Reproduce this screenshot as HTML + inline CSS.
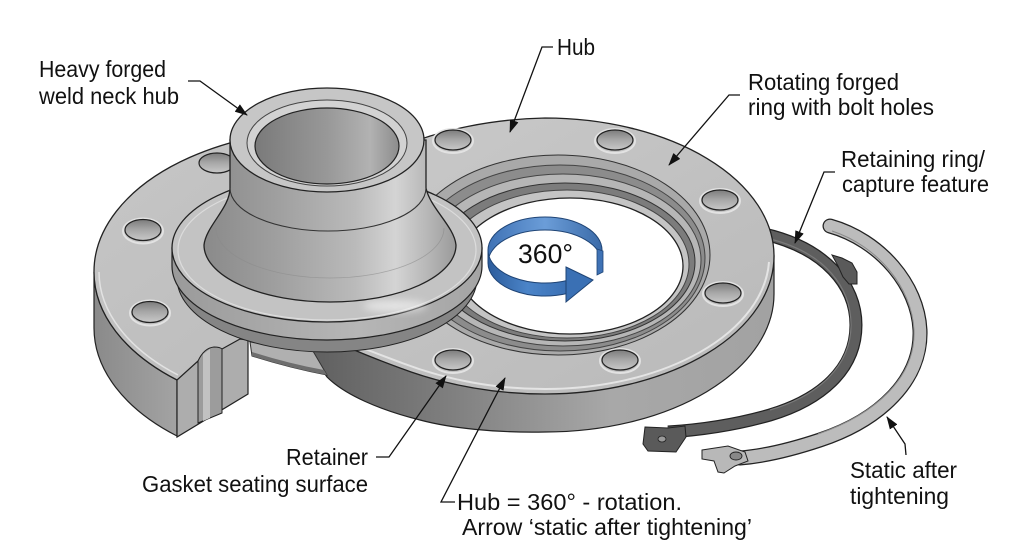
<!DOCTYPE html>
<html><head><meta charset="utf-8">
<style>
html,body{margin:0;padding:0;background:#fff}
svg{display:block}
text{font-family:"Liberation Sans",Arial,sans-serif;fill:#111}
</style></head>
<body>
<svg width="1024" height="559" viewBox="0 0 1024 559" xmlns="http://www.w3.org/2000/svg">
<defs>
  <linearGradient id="gFace" x1="0" y1="0" x2="1" y2="1">
    <stop offset="0" stop-color="#cacaca"/><stop offset="1" stop-color="#b9b9b9"/>
  </linearGradient>
  <linearGradient id="gLFace" x1="0" y1="0" x2="1" y2="1">
    <stop offset="0" stop-color="#c6c6c6"/><stop offset="1" stop-color="#bababa"/>
  </linearGradient>
  <linearGradient id="gRingSide" gradientUnits="userSpaceOnUse" x1="305" y1="0" x2="775" y2="0">
    <stop offset="0" stop-color="#5e5e5e"/><stop offset="0.3" stop-color="#7e7e7e"/>
    <stop offset="0.65" stop-color="#a8a8a8"/><stop offset="1" stop-color="#a2a2a2"/>
  </linearGradient>
  <linearGradient id="gLSide" gradientUnits="userSpaceOnUse" x1="94" y1="0" x2="180" y2="0">
    <stop offset="0" stop-color="#8a8a8a"/><stop offset="1" stop-color="#a4a4a4"/>
  </linearGradient>
  <linearGradient id="gHubSide" gradientUnits="userSpaceOnUse" x1="172" y1="0" x2="482" y2="0">
    <stop offset="0" stop-color="#9a9a9a"/><stop offset="0.6" stop-color="#b6b6b6"/><stop offset="1" stop-color="#a4a4a4"/>
  </linearGradient>
  <linearGradient id="gCone" gradientUnits="userSpaceOnUse" x1="204" y1="0" x2="456" y2="0">
    <stop offset="0" stop-color="#8a8a8a"/><stop offset="0.3" stop-color="#a0a0a0"/>
    <stop offset="0.6" stop-color="#bababa"/><stop offset="0.76" stop-color="#d4d4d4"/>
    <stop offset="0.9" stop-color="#b4b4b4"/><stop offset="1" stop-color="#9a9a9a"/>
  </linearGradient>
  <linearGradient id="gBore" gradientUnits="userSpaceOnUse" x1="255" y1="0" x2="399" y2="0">
    <stop offset="0" stop-color="#7a7a7a"/><stop offset="0.5" stop-color="#989898"/>
    <stop offset="0.8" stop-color="#b2b2b2"/><stop offset="1" stop-color="#8c8c8c"/>
  </linearGradient>
  <linearGradient id="gHole" x1="0" y1="0" x2="0" y2="1">
    <stop offset="0" stop-color="#7c7c7c"/><stop offset="0.5" stop-color="#a8a8a8"/><stop offset="1" stop-color="#c8c8c8"/>
  </linearGradient>
  <linearGradient id="gBlueBack" x1="0" y1="0" x2="1" y2="0">
    <stop offset="0" stop-color="#3f72b5"/><stop offset="0.5" stop-color="#6b9dd8"/><stop offset="1" stop-color="#3a6aa8"/>
  </linearGradient>
  <linearGradient id="gBlueFront" x1="0" y1="0" x2="1" y2="0">
    <stop offset="0" stop-color="#2c5c9c"/><stop offset="0.5" stop-color="#4b84c8"/><stop offset="1" stop-color="#3a70b4"/>
  </linearGradient>
  <filter id="blur" x="-50%" y="-50%" width="200%" height="200%"><feGaussianBlur stdDeviation="4"/></filter>
  <marker id="ah" markerUnits="userSpaceOnUse" markerWidth="13" markerHeight="9" refX="12" refY="4.5" orient="auto" viewBox="0 0 13 9">
    <path d="M0,0 L13,4.5 L0,9 Z" fill="#111"/>
  </marker>
</defs>

<rect width="1024" height="559" fill="#fff"/>

<!-- retaining ring A (dark) -->
<path d="M764,234 C825,248 856,285 856,325 C856,370 820,400 770,415 C735,425 700,430 668,432" fill="none" stroke="#222" stroke-width="13"/>
<path d="M764,234 C825,248 856,285 856,325 C856,370 820,400 770,415 C735,425 700,430 668,432" fill="none" stroke="#5e5e5e" stroke-width="10.5"/>
<path d="M770,239 C826,253 851,288 851,325 C851,366 818,396 770,410" fill="none" stroke="#7a7a7a" stroke-width="1.2"/>
<polygon points="645,427 668,428 685,426 686,437 680,446 676,452 648,451 643,444" fill="#5a5a5a" stroke="#222" stroke-width="1"/>
<ellipse cx="662" cy="439" rx="4" ry="3" fill="#999" stroke="#222" stroke-width=".8"/>
<polygon points="832,255 842,258 852,263 857,272 857,284 849,284 843,277 838,266" fill="#5a5a5a" stroke="#222" stroke-width="1"/>

<!-- main rotating ring: side -->
<path d="M774,256 L774,294 A229,138 0 0,1 545,432 C495,433 450,428 420,420 C380,410 345,395 327,377 L310,352 L300,320 L400,300 Z" fill="url(#gRingSide)" stroke="#222" stroke-width="1.2"/>
<!-- top face -->
<path d="M545,118 A229,138 0 0,1 774,256 A229,138 0 0,1 545,394 C495,394 445,385 400,368 C365,355 325,340 305,320 C290,300 292,260 310,220 C340,160 440,120 545,118 Z" fill="url(#gFace)" stroke="#222" stroke-width="1.3"/>
<path d="M769,262 A224,133 0 0,1 545,389 C495,389 447,380 402,363 C370,351 340,340 322,328" fill="none" stroke="#e4e4e4" stroke-width="2"/>
<!-- recess / grooves -->
<ellipse cx="558" cy="255" rx="152" ry="100" fill="#a9a9a9" stroke="#333" stroke-width="1"/>
<ellipse cx="560" cy="258" rx="145" ry="93" fill="#8c8c8c" stroke="#444" stroke-width="1"/>
<ellipse cx="563" cy="260" rx="138" ry="86" fill="#b6b6b6" stroke="#444" stroke-width="1"/>
<ellipse cx="565" cy="262" rx="130" ry="79" fill="#7c7c7c" stroke="#333" stroke-width="1"/>
<ellipse cx="567" cy="264" rx="122" ry="74" fill="#c4c4c4" stroke="#444" stroke-width="1"/>
<ellipse cx="570" cy="266" rx="113" ry="68" fill="#fff" stroke="#222" stroke-width="1.3"/>
<!-- bolt holes -->
<g>
  <g stroke="#e2e2e2" stroke-width="2" fill="none">
    <ellipse cx="453" cy="141" rx="20" ry="12"/><ellipse cx="615" cy="141" rx="20" ry="12"/>
    <ellipse cx="720" cy="201" rx="20" ry="12"/><ellipse cx="723" cy="294" rx="20" ry="12"/>
    <ellipse cx="620" cy="361" rx="20" ry="12"/><ellipse cx="453" cy="361" rx="20" ry="12"/>
  </g>
  <g stroke="#222" stroke-width="1.2" fill="url(#gHole)">
    <ellipse cx="453" cy="140" rx="18" ry="10"/><ellipse cx="615" cy="140" rx="18" ry="10"/>
    <ellipse cx="720" cy="200" rx="18" ry="10"/><ellipse cx="723" cy="293" rx="18" ry="10"/>
    <ellipse cx="620" cy="360" rx="18" ry="10"/><ellipse cx="453" cy="360" rx="18" ry="10"/>
  </g>
</g>

<!-- left flange with cutaway -->
<path d="M94,272 A236,142 0 0,0 177,380 L177,436 A236,142 0 0,1 94,328 Z" fill="url(#gLSide)" stroke="#222" stroke-width="1.2"/>
<path d="M177,380 A236,142 0 0,1 94,272 A236,142 0 0,1 400,136 L420,200 L300,300 L248,340 Z" fill="url(#gLFace)" stroke="#222" stroke-width="1.3"/>
<path d="M178,375 A231,137 0 0,1 99,272" fill="none" stroke="#e2e2e2" stroke-width="1.5"/>
<!-- cut face -->
<polygon points="177,380 198,361 222,349 240,339 248,340 248,394 177,437" fill="#adadad" stroke="#222" stroke-width="1.2"/>
<path d="M198,361 Q204,348 214,347 Q220,347 222,349 L222,413 L198,423 Z" fill="#9c9c9c" stroke="#222" stroke-width="1"/>
<path d="M203,354 L203,421 L210,418 L210,349 Z" fill="#c2c2c2"/>
<line x1="222" y1="349" x2="222" y2="413" stroke="#222" stroke-width="1"/>
<!-- left flange holes -->
<g>
  <g stroke="#e2e2e2" stroke-width="2" fill="none">
    <ellipse cx="143" cy="231" rx="20" ry="12.5"/><ellipse cx="150" cy="313" rx="20" ry="12.5"/>
  </g>
  <g stroke="#222" stroke-width="1.2" fill="url(#gHole)">
    <ellipse cx="217" cy="163" rx="18" ry="10"/>
    <ellipse cx="143" cy="230" rx="18" ry="10.5"/>
    <ellipse cx="150" cy="312" rx="18" ry="10.5"/>
  </g>
</g>

<!-- retainer (light wedge under hub) -->
<path d="M250,342 L310,346 L327,375 Q290,368 252,356 Z" fill="#b0b0b0" stroke="#333" stroke-width="1"/>
<path d="M252,352 Q290,364 324,370 L327,375 Q290,368 252,356 Z" fill="#6e6e6e"/>

<!-- dark gasket band beneath hub flange -->
<path d="M177,262 L177,278 A150,74 0 0,0 477,278 L477,262 Z" fill="#858585" stroke="#222" stroke-width="1"/>

<!-- hub flange -->
<path d="M172,248 L172,266 A155,74 0 0,0 482,266 L482,248 Z" fill="url(#gHubSide)" stroke="#222" stroke-width="1.2"/>
<ellipse cx="327" cy="248" rx="155" ry="74" fill="#c3c3c3" stroke="#222" stroke-width="1.3"/>
<ellipse cx="327" cy="250" rx="149" ry="70" fill="none" stroke="#dcdcdc" stroke-width="1.2"/>
<ellipse cx="395" cy="306" rx="32" ry="6" fill="#fff" opacity="0.55" filter="url(#blur)"/>

<!-- cone / neck -->
<path d="M230,140 L230,188 C230,208 206,226 204,245 A126,57 0 0,0 456,245 C454,226 430,208 426,188 L426,140 Z" fill="url(#gCone)" stroke="#222" stroke-width="1.3"/>
<path d="M230,188 A98,43 0 0,0 426,188" fill="none" stroke="#333" stroke-width="1.1"/>
<path d="M216,228 A114,50 0 0,0 444,228" fill="none" stroke="#8a8a8a" stroke-width="0.8" opacity="0.6"/>
<!-- top rim -->
<ellipse cx="327" cy="140" rx="97" ry="52" fill="#c6c6c6" stroke="#222" stroke-width="1.3"/>
<ellipse cx="327" cy="143" rx="80" ry="43" fill="#d2d2d2" stroke="#444" stroke-width="1"/>
<ellipse cx="327" cy="146" rx="72" ry="38" fill="url(#gBore)" stroke="#222" stroke-width="1.2"/>

<!-- blue 360 ribbon -->
<path d="M488,250 A57,33 0 0,1 602,250 L602,263 A57,33 0 0,0 488,263 Z" fill="url(#gBlueBack)" stroke="#1f4475" stroke-width="1"/>
<path d="M488,250 A57,33 0 0,0 567,280.5 L567,293.5 A57,33 0 0,1 488,263 Z" fill="url(#gBlueFront)" stroke="#1f4475" stroke-width="1"/>
<polygon points="566,267 593,280 566,302" fill="#3a70b4" stroke="#1f4475" stroke-width="1"/>
<polygon points="597,249 603,251 603,272 597,275" fill="#3f72b5" stroke="#1f4475" stroke-width=".8"/>
<text x="518" y="263" font-size="27" textLength="55" lengthAdjust="spacingAndGlyphs">360°</text>

<!-- retaining ring B (light) -->
<path d="M830,226 C880,240 918,285 920,330 C922,380 880,420 820,440 C790,450 765,456 740,458" fill="none" stroke="#222" stroke-width="15" stroke-linecap="round"/>
<path d="M830,226 C880,240 918,285 920,330 C922,380 880,420 820,440 C790,450 765,456 740,458" fill="none" stroke="#bcbcbc" stroke-width="12.5" stroke-linecap="round"/>
<path d="M832,231 C878,246 912,288 914,330 C916,377 876,414 818,434" fill="none" stroke="#8a8a8a" stroke-width="1"/>
<polygon points="702,450 728,446 745,452 748,461 735,466 724,473 718,472 714,461 702,459" fill="#b8b8b8" stroke="#222" stroke-width="1"/>
<ellipse cx="736" cy="456" rx="6" ry="4" fill="#888" stroke="#222" stroke-width=".9"/>

<!-- leaders -->
<g fill="none" stroke="#111" stroke-width="1.3">
  <polyline points="188,81 200,81 247,115" marker-end="url(#ah)"/>
  <polyline points="553,47 542,47 510,132" marker-end="url(#ah)"/>
  <polyline points="740,95 729,95 669,165" marker-end="url(#ah)"/>
  <polyline points="835,172 824,172 795,243" marker-end="url(#ah)"/>
  <polyline points="376,457 389,457 446,376" marker-end="url(#ah)"/>
  <polyline points="455,502 441,502 505,378" marker-end="url(#ah)"/>
  <polyline points="906,455 905,444 887,417" marker-end="url(#ah)"/>
</g>

<!-- labels -->
<g font-size="23">
  <text x="39" y="77" textLength="127" lengthAdjust="spacingAndGlyphs">Heavy forged</text>
  <text x="39" y="104" textLength="140" lengthAdjust="spacingAndGlyphs">weld neck hub</text>
  <text x="557" y="55" textLength="38" lengthAdjust="spacingAndGlyphs">Hub</text>
  <text x="748" y="90" textLength="151" lengthAdjust="spacingAndGlyphs">Rotating forged</text>
  <text x="748" y="115" textLength="186" lengthAdjust="spacingAndGlyphs">ring with bolt holes</text>
  <text x="841" y="167" textLength="144" lengthAdjust="spacingAndGlyphs">Retaining ring/</text>
  <text x="842" y="192" textLength="147" lengthAdjust="spacingAndGlyphs">capture feature</text>
  <text x="286" y="465" textLength="82" lengthAdjust="spacingAndGlyphs">Retainer</text>
  <text x="142" y="492" textLength="226" lengthAdjust="spacingAndGlyphs">Gasket seating surface</text>
  <text x="457" y="510" textLength="225" lengthAdjust="spacingAndGlyphs">Hub = 360° - rotation.</text>
  <text x="462" y="535" textLength="290" lengthAdjust="spacingAndGlyphs">Arrow ‘static after tightening’</text>
  <text x="850" y="478" textLength="107" lengthAdjust="spacingAndGlyphs">Static after</text>
  <text x="850" y="504" textLength="99" lengthAdjust="spacingAndGlyphs">tightening</text>
</g>
</svg>
</body></html>
